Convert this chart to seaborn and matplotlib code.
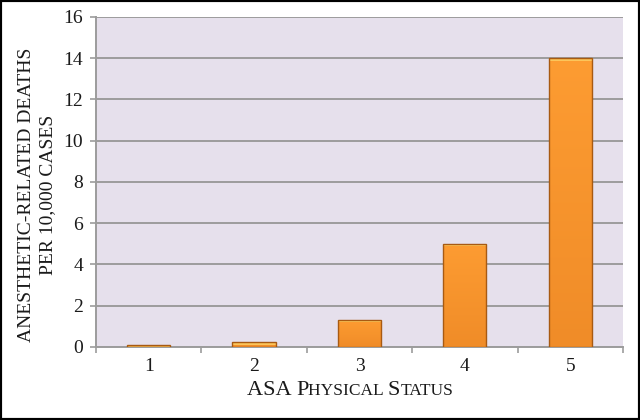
import matplotlib
matplotlib.use('Agg')
import matplotlib.pyplot as plt
import seaborn as sns
import numpy as np
import pandas as pd
from matplotlib.colors import to_rgb
from matplotlib.patches import Rectangle
from matplotlib.offsetbox import TextArea, HPacker, AnchoredOffsetbox

# values
asa_status = ['1', '2', '3', '4', '5']
deaths_per_10k = [0.1, 0.26, 1.32, 5.0, 14.0]
y_ticks = [0, 2, 4, 6, 8, 10, 12, 14, 16]

df = pd.DataFrame({'status': asa_status, 'deaths': deaths_per_10k})

sns.set_style('white')
plt.rcParams['font.family'] = ['Liberation Serif', 'DejaVu Serif']

grey = '#9c9c9c'
ink = '#1a1a1a'
fig = plt.figure(figsize=(6.4, 4.2), dpi=100)
ax = fig.add_axes([0.15, 0.174, 0.8234, 0.7857])
ax.set_facecolor('#e6e0ec')

sns.barplot(data=df, x='status', y='deaths', ax=ax, color='#f5922a',
            saturation=1, width=0.41, edgecolor='#a85a12', linewidth=1.0,
            zorder=3)

ax.set_ylim(0, 16)
ax.set_xlim(-0.5, 4.5)
ax.set_yticks(y_ticks)
ax.yaxis.grid(True, color=grey, linewidth=1.4, zorder=0)
ax.set_axisbelow(True)

# shaded fill with a light bevel along the top of each bar
px_per_unit = fig.get_figheight() * fig.dpi * 0.7857 / 16
top_c, bot_c, bevel_c = (np.array(to_rgb(c)) for c in
                         ('#fd9c32', '#f08c28', '#fcc55a'))
for bar in list(ax.patches):
    x0, y0 = bar.get_x(), bar.get_y()
    w, h = bar.get_width(), bar.get_height()
    n = max(int(round(h * px_per_unit)), 1)
    t = np.linspace(0, 1, n)[:, None]
    rows = top_c * (1 - t) + bot_c * t
    rows[:min(3, n)] = bevel_c
    img = np.repeat(rows[:, None, :], 4, axis=1)
    im = ax.imshow(img, extent=(x0, x0 + w, y0, y0 + h), aspect='auto',
                   zorder=3.5, interpolation='nearest')
    im.set_clip_path(bar)
    bar.set_facecolor('none')
    bar.set_zorder(4)
ax.set_xlim(-0.5, 4.5)
ax.set_ylim(0, 16)

for side in ['top', 'right']:
    ax.spines[side].set_visible(False)
for side in ['left', 'bottom']:
    ax.spines[side].set_color(grey)
    ax.spines[side].set_linewidth(1.4)

ax.set_xticks(range(5))
ax.set_xticks([i - 0.5 for i in range(6)], minor=True)
ax.tick_params(axis='x', which='major', length=0, pad=8, labelsize=14,
               labelcolor=ink)
ax.tick_params(axis='x', which='minor', length=4.3, width=1.2, color=grey,
               direction='out', bottom=True)
ax.tick_params(axis='y', length=4.3, width=1.2, color=grey, pad=5,
               labelsize=14, labelcolor=ink, left=True)

ax.set_xlabel('')
ax.set_ylabel('')

fig.text(0.058, 0.536, 'ANESTHETIC-RELATED DEATHS\nPER 10,000 CASES',
         rotation=90, ha='center', va='center', fontsize=14,
         linespacing=1.25, color=ink)

# small caps x label
big, small = 16, 12.5
parts = [('ASA ', big), ('P', big), ('HYSICAL ', small), ('S', big),
         ('TATUS', small)]
areas = [TextArea(t, textprops=dict(fontsize=s, color=ink,
                                    family=['Liberation Serif']))
         for t, s in parts]
pack = HPacker(children=areas, align='baseline', pad=0, sep=0)
box = AnchoredOffsetbox(loc='center', child=pack, frameon=False,
                        bbox_to_anchor=(0.547, 0.071),
                        bbox_transform=fig.transFigure, borderpad=0, pad=0)
fig.add_artist(box)

fig.add_artist(Rectangle((0, 0), 1, 1, transform=fig.transFigure,
                         fill=False, edgecolor='black', linewidth=3))

fig.savefig('out.png', dpi=100, facecolor='white')
